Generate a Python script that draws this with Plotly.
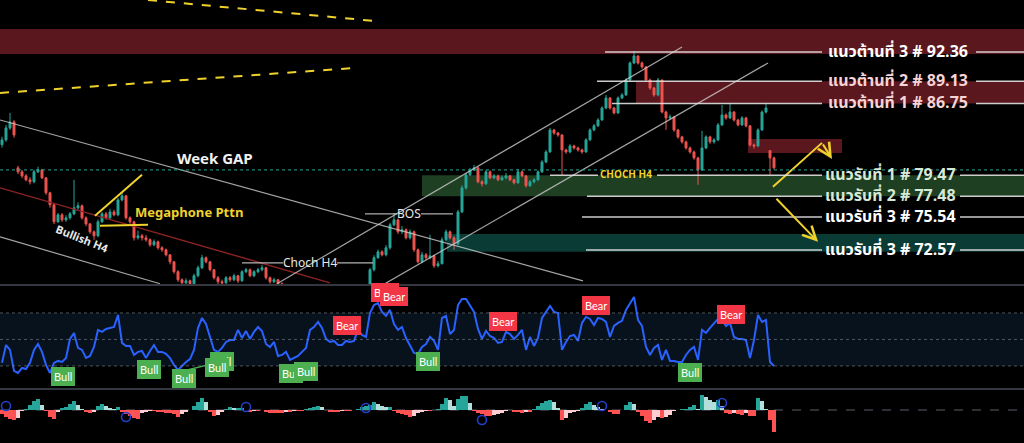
import math
import plotly.graph_objects as go
from plotly.subplots import make_subplots

# ---- price candles (one every ~4px in the reference) ----
closes = [
    82.98, 84.20, 84.82, 83.48, 79.81, 79.42, 79.04, 78.85, 79.81, 80.00,
    79.23, 77.80, 76.67, 75.10, 75.74, 75.28, 75.46, 75.83, 76.39, 76.58,
    75.46, 74.91, 74.19, 73.83, 75.10, 75.83, 75.46, 76.01, 75.74, 77.13,
    77.51, 75.46, 75.10, 73.65, 73.83, 73.65, 73.47, 73.02, 73.29, 72.76,
    72.58, 72.14, 71.53, 70.67, 69.98, 69.72, 69.89, 69.64, 70.32, 71.01,
    71.88, 71.53, 70.84, 70.15, 69.81, 69.72, 70.15, 69.98, 70.32, 69.89,
    70.67, 70.84, 70.32, 70.67, 70.84, 71.01, 70.15, 69.81, 69.98, 69.64,
    69.13, 68.80, 68.46, 68.63, 68.13, 67.88, 68.30, 67.80, 67.47, 67.97,
    68.30, 67.80, 68.05, 68.46, 68.13, 68.63, 68.30, 68.80, 68.55, 68.96,
    68.80, 69.30, 70.84, 71.88, 72.40, 72.14, 72.76, 74.82, 75.28, 74.19,
    74.37, 73.65, 74.19, 72.58, 71.53, 72.14, 71.88, 72.05, 71.18, 71.36,
    73.47, 74.19, 73.65, 73.11, 76.01, 78.27, 79.52, 80.00, 80.20, 78.85,
    78.66, 79.81, 79.23, 79.42, 79.04, 79.23, 79.42, 79.04, 78.75, 79.81,
    79.42, 78.47, 78.85, 79.04, 79.81, 80.78, 81.77, 83.99, 83.68, 83.48,
    81.97, 81.77, 82.37, 82.17, 81.97, 81.77, 82.98, 83.99, 84.41, 85.02,
    86.27, 87.33, 86.27, 85.75, 87.33, 87.65, 89.26, 91.13, 91.91, 91.13,
    90.69, 89.26, 88.40, 87.65, 89.26, 85.85, 85.23, 85.33, 83.99, 83.28,
    82.78, 82.17, 81.77, 81.18, 80.00, 82.17, 83.28, 82.78, 82.98, 84.51,
    85.54, 85.23, 85.85, 85.02, 84.51, 85.23, 84.41, 82.47, 82.37, 83.99,
    85.85, 86.27, 81.18, 80.20,
]
highs = [
    83.30, 84.50, 85.75, 85.00, 80.40, 80.00, 79.60, 79.30, 80.00, 80.30,
    80.10, 79.30, 77.90, 76.80, 75.90, 75.90, 75.70, 76.00, 79.04, 76.90,
    76.70, 75.60, 75.00, 74.30, 75.30, 76.00, 76.00, 76.30, 76.20, 77.30,
    77.80, 77.60, 75.60, 75.20, 74.30, 74.00, 73.90, 73.60, 73.50, 73.40,
    72.90, 72.70, 72.20, 71.60, 70.80, 70.10, 70.10, 70.00, 70.50, 71.20,
    72.14, 72.00, 71.60, 70.90, 70.30, 70.00, 70.30, 70.30, 70.50, 70.40,
    70.80, 71.00, 70.95, 70.80, 71.00, 71.27, 71.10, 70.25, 70.15, 70.05,
    69.75, 69.25, 68.90, 68.80, 68.70, 68.25, 68.45, 68.40, 67.90, 68.10,
    68.45, 68.40, 68.20, 68.60, 68.55, 68.75, 68.70, 68.95, 68.90, 69.10,
    69.10, 69.45, 71.00, 72.10, 72.60, 72.55, 73.00, 75.00, 75.92, 75.40,
    74.70, 74.50, 74.40, 74.30, 72.70, 72.40, 72.30, 73.92, 72.15, 71.60,
    73.70, 74.40, 74.30, 73.80, 76.20, 78.50, 79.70, 80.20, 80.49, 80.30,
    79.00, 80.00, 79.95, 79.60, 79.55, 79.45, 79.70, 79.50, 79.15, 80.10,
    79.95, 79.50, 79.00, 79.20, 79.95, 80.95, 81.95, 84.20, 84.10, 83.80,
    83.55, 82.10, 82.55, 82.50, 82.30, 82.10, 83.15, 84.15, 84.60, 85.20,
    86.45, 87.65, 87.40, 86.40, 87.50, 87.85, 89.45, 91.30, 92.47, 92.00,
    91.30, 90.80, 89.40, 88.50, 89.48, 89.30, 86.00, 85.60, 85.45, 84.10,
    83.40, 82.90, 82.30, 81.90, 81.30, 83.89, 83.45, 83.40, 83.15, 84.70,
    86.59, 85.70, 86.80, 85.95, 85.15, 85.40, 85.35, 84.50, 82.60, 84.15,
    86.00, 86.80, 81.95, 81.30,
]
lows = [
    82.20, 82.80, 84.00, 83.20, 79.60, 79.20, 78.90, 78.60, 78.70, 79.70,
    79.10, 77.60, 76.40, 74.90, 75.00, 75.10, 75.10, 75.30, 75.70, 76.20,
    75.30, 74.70, 74.00, 73.47, 73.70, 75.00, 75.30, 75.30, 75.60, 75.60,
    77.00, 75.30, 74.90, 73.40, 73.50, 73.40, 73.30, 72.85, 72.90, 72.60,
    72.40, 72.00, 71.30, 70.50, 69.80, 69.50, 69.60, 69.40, 69.55, 70.20,
    70.90, 71.40, 70.70, 70.00, 69.60, 69.50, 69.60, 69.80, 69.85, 69.70,
    69.80, 70.55, 70.20, 70.20, 70.55, 70.70, 70.00, 69.65, 69.70, 69.45,
    69.00, 68.65, 68.30, 68.35, 68.00, 67.75, 67.80, 67.65, 67.30, 67.40,
    67.90, 67.70, 67.70, 67.95, 68.00, 68.05, 68.20, 68.20, 68.45, 68.45,
    68.70, 68.70, 69.20, 70.70, 71.80, 72.00, 72.00, 72.60, 74.70, 74.00,
    74.00, 73.50, 73.50, 72.40, 71.40, 71.40, 71.70, 71.75, 71.00, 71.05,
    71.30, 73.30, 73.50, 72.58, 73.00, 75.90, 78.10, 79.40, 79.90, 78.70,
    78.40, 78.55, 79.10, 79.10, 78.90, 78.95, 79.10, 78.90, 78.60, 78.65,
    79.30, 78.30, 78.35, 78.70, 78.95, 79.70, 80.65, 81.70, 83.50, 83.30,
    79.52, 81.60, 81.65, 82.00, 81.80, 81.60, 81.70, 82.90, 83.85, 84.30,
    84.95, 86.15, 86.10, 85.60, 85.65, 87.20, 87.55, 89.15, 91.00, 90.95,
    90.50, 89.10, 88.20, 87.45, 87.50, 85.70, 84.00, 85.05, 83.80, 83.10,
    82.60, 82.00, 81.60, 81.00, 78.56, 79.90, 82.05, 82.60, 82.60, 82.85,
    84.40, 85.05, 85.10, 84.85, 84.35, 84.40, 84.25, 82.30, 82.10, 82.25,
    83.90, 85.70, 79.52, 80.05,
]
opens = [82.50] + closes[:-1]
opens[4] = 80.20     # week gap
opens[192] = 81.90   # last gap down

# ---- RSI line ----
rsi = [
    32.3, 45.8, 42.1, 26.3, 24.7, 28.5, 27.7, 32.3, 42.1, 46.6,
    40.6, 30.8, 24.7, 32.3, 33.8, 33.0, 36.0, 50.4, 54.9, 43.6,
    42.1, 36.0, 37.5, 44.3, 57.2, 55.7, 57.9, 58.7, 59.4, 68.5,
    47.4, 45.1, 45.1, 38.3, 40.6, 41.3, 36.0, 41.3, 45.8, 40.6,
    40.6, 39.1, 36.0, 30.8, 27.0, 30.0, 33.0, 35.2, 42.1, 58.7,
    66.2, 61.7, 51.9, 42.1, 40.6, 43.6, 48.1, 49.6, 49.6, 57.2,
    51.1, 56.4, 50.4, 55.7, 59.4, 56.4, 46.6, 44.3, 48.1, 37.5,
    38.3, 40.6, 34.5, 36.0, 37.5, 40.6, 43.6, 57.2, 59.4, 63.2,
    58.7, 50.4, 48.1, 48.9, 45.8, 45.8, 48.9, 48.1, 48.9, 57.2,
    53.4, 51.9, 70.0, 76.0, 77.5, 70.8, 67.7, 72.3, 61.7, 57.2,
    59.4, 51.1, 45.1, 39.8, 39.1, 44.3, 46.6, 51.9, 48.9, 42.1,
    66.2, 67.7, 54.1, 57.2, 76.0, 80.6, 80.6, 76.0, 70.8, 57.9,
    50.4, 56.4, 52.6, 51.1, 47.4, 48.1, 55.7, 54.1, 50.4, 53.4,
    57.2, 42.1, 51.9, 45.1, 51.1, 66.2, 70.8, 75.3, 70.8, 70.0,
    42.1, 48.1, 52.6, 53.4, 48.9, 62.5, 67.0, 65.5, 60.9, 66.2,
    65.5, 63.2, 51.9, 60.2, 62.5, 64.0, 72.3, 76.8, 82.1, 64.7,
    60.2, 44.3, 38.3, 43.6, 45.8, 34.5, 42.1, 33.8, 33.8, 33.0,
    33.0, 38.3, 42.1, 44.3, 34.5, 57.2, 54.9, 58.7, 62.5, 65.5,
    64.7, 60.2, 62.5, 51.9, 50.4, 50.4, 49.6, 36.0, 49.6, 68.5,
    63.2, 64.7, 33.0, 30.0,
]

# ---- oscillator histogram ----
hist = [
    -4, -7, -9, -10, -8, -1, 1, 5, 9, 11,
    5, -1, -7, -9, -2, 2, 3, 6, 9, 5,
    1, -2, -3, -2, 4, 6, 4, 2, 1, 3,
    -2, -4, -6, -8, -9, -3, -2, -1, -1, -2,
    -2, -3, -3, -4, -7, -4, -2, 0, 4, 8,
    12, 8, -2, -6, -5, -2, 1, 3, 2, 2,
    2, 0, -2, -1, -1, 0, -2, -3, -3, -3,
    -3, -2, -2, -1, -1, -1, 1, 2, 3, 4,
    3, 0, -2, -2, -2, -1, -1, -1, 0, 1,
    3, 4, 5, 8, 6, 4, 3, 3, -1, -3,
    -4, -5, -7, -6, -3, -2, -1, -1, 0, 1,
    6, 12, 10, 4, 11, 14, 14, 7, -1, -3,
    -4, -6, -6, -5, -4, -3, -1, 0, -2, -2,
    -3, -2, -2, 1, 4, 7, 9, 10, 8, 2,
    -10, -8, -3, -2, -1, 2, 6, 8, 5, 3,
    1, 0, -2, -4, -4, 0, 5, 8, 6, -2,
    -6, -11, -13, -10, -7, -8, -7, -5, -1, 0,
    1, 1, 3, 5, 1, 15, 13, 10, 8, 10,
    4, -3, -4, -3, -4, -5, -3, -6, -6, 12,
    9, 1, -10, -22,
]
circle_idx = [1, 31, 61, 91, 120, 150, 180]
circle_val = [4, -7, 3, 2, -10, 4, 7]

# ---- support / resistance levels ----
levels = [92.36, 89.13, 86.75, 79.47, 77.48, 75.54, 72.57]
level_names = ["แนวต้านที่ 3", "แนวต้านที่ 2", "แนวต้านที่ 1",
               "แนวรับที่ 1", "แนวรับที่ 2", "แนวรับที่ 3", "แนวรับที่ 3"]
level_start = [150.75, 148.75, 152.5, 137, 146.25, 145, 146]
level_colors = ["#ffffff", "#f6d3d6", "#f6d3d6", "#d6e9d6", "#d6e9d6", "#ffffff", "#ffffff"]

# signal labels on the RSI pane
bull_x = [15.2, 36.8, 45.5, 55.0, 53.8, 72.2, 76.0, 106.5, 172.0]
bull_y = [21.7, 27.0, 20.2, 33.0, 29.2, 24.0, 25.5, 33.0, 24.7]
bear_x = [95.8, 98.0, 86.2, 125.2, 148.5, 182.2]
bear_y = [85.1, 82.1, 60.2, 63.2, 75.3, 68.5]

UP = "#26a69a"
DOWN = "#ef5350"
YEL = "#f0d22c"
GRAY = "rgba(205,205,205,0.8)"
X_END = 255.5
lg = math.log10

idx = list(range(len(closes)))

fig = make_subplots(rows=3, cols=1, shared_xaxes=True, vertical_spacing=0)

fig.add_trace(go.Candlestick(
    x=idx, open=opens, high=highs, low=lows, close=closes,
    increasing=dict(line=dict(color=UP, width=1), fillcolor=UP),
    decreasing=dict(line=dict(color=DOWN, width=1), fillcolor=DOWN),
    whiskerwidth=0, showlegend=False, hoverinfo="skip"), row=1, col=1)

fig.add_trace(go.Scatter(x=idx, y=rsi, mode="lines", line=dict(color="#2962ff", width=2),
                         showlegend=False, hoverinfo="skip"), row=2, col=1)

bar_colors = []
for i, v in enumerate(hist):
    prev = hist[i - 1] if i else 0
    if v >= 0:
        bar_colors.append("#26a69a" if v >= prev else "#b2dfdb")
    else:
        bar_colors.append("#ff5252" if v <= prev else "#ffcdd2")
fig.add_trace(go.Bar(x=idx, y=hist, marker=dict(color=bar_colors, line=dict(width=0)),
                     showlegend=False, hoverinfo="skip"), row=3, col=1)
fig.add_trace(go.Scatter(x=circle_idx, y=circle_val, mode="markers",
                         marker=dict(symbol="circle-open", size=9, color="#2340c8", line=dict(width=1.6)),
                         showlegend=False, hoverinfo="skip"), row=3, col=1)

# arrow shaft of the bounce scenario
fig.add_trace(go.Scatter(x=[192.75, 205], y=[78.37, 82.68], mode="lines",
                         line=dict(color=YEL, width=2), showlegend=False, hoverinfo="skip"), row=1, col=1)

shapes = []
def seg(x0, y0, x1, y1, color=GRAY, width=1.2, dash="solid", xref="x", yref="y", layer="above"):
    shapes.append(dict(type="line", xref=xref, yref=yref, x0=x0, y0=y0, x1=x1, y1=y1,
                       line=dict(color=color, width=width, dash=dash), layer=layer))

def zone(x0, x1, y0, y1, color, xref="x", yref="y"):
    shapes.append(dict(type="rect", xref=xref, yref=yref, x0=x0, x1=x1, y0=y0, y1=y1,
                       fillcolor=color, line=dict(width=0), layer="below"))

# zones
zone(0, 1, 92.14, 94.98, "#5b171e", xref="paper")
zone(158.5, X_END, 86.75, 89.13, "#5b171e")
zone(186.5, 210, 81.67, 83.08, "#5b171e")
zone(105, X_END, 77.48, 79.47, "#1f3f22")
zone(111.25, X_END, 72.40, 73.99, "#0a3b34")
zone(0, 1, 30, 70, "#08121c", xref="paper", yref="y2")

# channels and trend lines
seg(-0.5, 85.02, 145.25, 69.89)
seg(-0.5, 73.74, 39.5, 69.64)
seg(-0.5, 78.27, 82, 69.72, color="#8c2323", width=1.4)
seg(68.75, 69.64, 170, 92.92)
seg(95.25, 69.55, 191.5, 91.13)
seg(36.5, 98.40, 93.25, 95.91, color=YEL, width=2, dash="dash")
seg(-0.5, 87.86, 88.25, 90.58, color=YEL, width=2, dash="dash")
seg(23.25, 75.65, 35, 79.52, color=YEL, width=2)
seg(24.5, 74.73, 36.5, 74.82, color=YEL, width=2)
seg(-0.5, 80.00, X_END, 80.00, color="#26a69a", width=1, dash="dot")
seg(60, 71.44, 70.25, 71.44, color="rgba(210,210,210,0.85)")
seg(83.75, 71.44, 92.75, 71.44, color="rgba(210,210,210,0.85)")
seg(90.75, 75.83, 98.75, 75.83, color="rgba(210,210,210,0.85)")
seg(104.75, 75.83, 112.75, 75.83, color="rgba(210,210,210,0.85)")

# level lines, broken where the label sits
for k, lv in enumerate(levels):
    c = "rgba(225,225,225,0.9)"
    gap_end = 243.5 if k < 3 else 239.5
    if k == 3:
        seg(level_start[k], lv, 149, lv, color=c, width=1.5)
        seg(163.75, lv, 205, lv, color=c, width=1.5)
    else:
        seg(level_start[k], lv, 205, lv, color=c, width=1.5)
    seg(gap_end, lv, X_END, lv, color=c, width=1.5)

# RSI guides, separators, histogram zero line
for g in [70, 50, 30]:
    seg(0, g, 1, g, color="rgba(130,133,144,0.6)", width=1, dash="dot", xref="paper", yref="y2")
seg(0, 1 - 285 / 443, 1, 1 - 285 / 443, color="#34373f", width=2, xref="paper", yref="paper")
seg(0, 1 - 389 / 443, 1, 1 - 389 / 443, color="#34373f", width=2, xref="paper", yref="paper")
seg(0, 0, 1, 0, color="#5a5e68", width=1, dash="dash", xref="paper", yref="y3", layer="below")
seg(45.25, 26.2, 51.5, 30.8, color="#4caf50", width=1.5, xref="x2", yref="y2")

ann = []
FONT = "Noto Sans Thai, Loma, Garuda, Noto Sans, DejaVu Sans, sans-serif"
for k, lv in enumerate(levels):
    ann.append(dict(x=224.0 if k < 3 else 222.0, y=lg(lv), xref="x", yref="y",
                    text="<b>%s # %.2f</b>" % (level_names[k], lv), showarrow=False,
                    font=dict(family=FONT, size=16, color=level_colors[k])))

ann.append(dict(x=53.25, y=lg(81.07), xref="x", yref="y", text="<b>Week GAP</b>", showarrow=False,
                font=dict(family=FONT, size=15, color="#f2f2f2")))
ann.append(dict(x=46.75, y=lg(75.92), xref="x", yref="y", text="<b>Megaphone Pttn</b>", showarrow=False,
                font=dict(family=FONT, size=13, color=YEL)))
ann.append(dict(x=20, y=lg(73.47), xref="x", yref="y", text="<b>Bullish H4</b>", showarrow=False,
                textangle=22, font=dict(family=FONT, size=11, color="#e8e8e8")))
ann.append(dict(x=77, y=lg(71.44), xref="x", yref="y", text="Choch H4", showarrow=False,
                font=dict(family=FONT, size=12, color="#e8e8e8")))
ann.append(dict(x=101.75, y=lg(75.83), xref="x", yref="y", text="BOS", showarrow=False,
                font=dict(family=FONT, size=12, color="#e8e8e8")))
ann.append(dict(x=156, y=lg(79.47), xref="x", yref="y", text="<b>CHOCH H4</b>", showarrow=False,
                font=dict(family=FONT, size=10, color=YEL)))

# arrow heads
ann.append(dict(x=207.5, y=lg(81.08), ax=205, ay=lg(82.68), xref="x", yref="y", axref="x", ayref="y",
                text="", showarrow=True, arrowhead=5, arrowsize=1.3, arrowwidth=2, arrowcolor=YEL))
ann.append(dict(x=204, y=lg(73.29), ax=193.25, ay=lg(77.38), xref="x", yref="y", axref="x", ayref="y",
                text="", showarrow=True, arrowhead=5, arrowsize=1.3, arrowwidth=2, arrowcolor=YEL))

for bx, by in zip(bull_x, bull_y):
    ann.append(dict(x=bx, y=by, xref="x2", yref="y2", text="Bull", showarrow=False,
                    bgcolor="#4caf50", bordercolor="#4caf50", borderpad=2,
                    font=dict(family="Lato, DejaVu Sans", size=11, color="#ffffff")))
for bx, by in zip(bear_x, bear_y):
    ann.append(dict(x=bx, y=by, xref="x2", yref="y2", text="Bear", showarrow=False,
                    bgcolor="#f23645", bordercolor="#f23645", borderpad=2,
                    font=dict(family="Lato, DejaVu Sans", size=11, color="#ffffff")))

fig.update_layout(
    width=1024, height=443, margin=dict(l=0, r=0, t=0, b=0),
    paper_bgcolor="#000000", plot_bgcolor="#000000",
    showlegend=False, bargap=0, shapes=shapes, annotations=ann,
    yaxis=dict(type="log", range=[1.84220, 1.99299], domain=[1 - 285 / 443, 1], visible=False),
    yaxis2=dict(range=[12.6, 91.1], domain=[1 - 389 / 443, 1 - 285 / 443], visible=False),
    yaxis3=dict(range=[-33, 21], domain=[0, 1 - 389 / 443], visible=False),
)
fig.update_xaxes(range=[-0.5, X_END], visible=False, rangeslider_visible=False)

# page body has a default 8px margin; drop it so the chart fills the window
fig.write_html("out.html", config={"displayModeBar": False},
               post_script="document.body.style.margin='0px';document.body.style.background='#000';")
